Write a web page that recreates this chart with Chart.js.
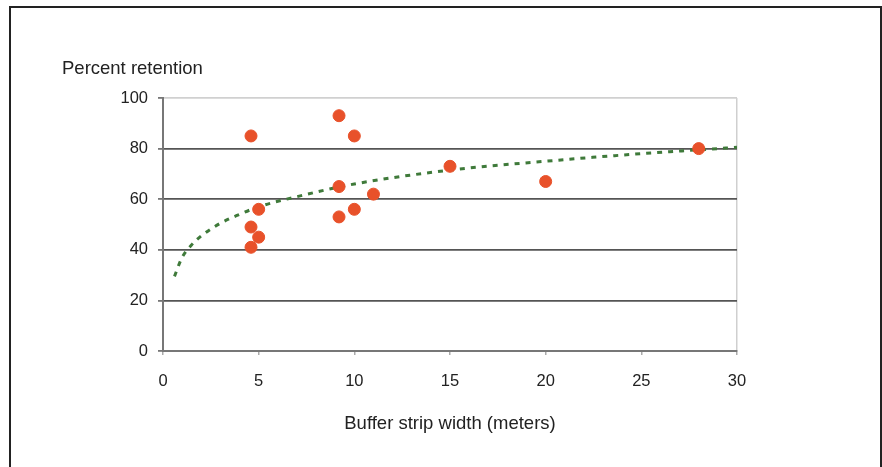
<!DOCTYPE html>
<html>
<head>
<meta charset="utf-8">
<script src="https://cdn.jsdelivr.net/npm/chart.js@4.4.1/dist/chart.umd.min.js"></script>
<style>
  html, body { margin: 0; padding: 0; background: #fff; }
  #frame {
    position: absolute; left: 9px; top: 6px; width: 869px; height: 480px;
    border-left: 2px solid #222; border-top: 2px solid #222; border-right: 2px solid #222;
  }
  #chart { position: absolute; left: 0; top: 0; }
</style>
</head>
<body>
<div id="frame"></div>
<canvas id="chart" width="882" height="467"></canvas>
<script>
  // measured points (buffer width in m, % retained)
  var widths    = [4.6, 9.2, 10, 9.2, 11, 5, 10, 9.2, 4.6, 5, 4.6, 15, 20, 28];
  var retention = [85, 93, 85, 65, 62, 56, 56, 53, 49, 45, 41, 73, 67, 80];

  // trend line
  var trendX = [0.6, 1, 1.5, 2, 3, 4, 5, 7, 10, 15, 20, 25, 30];
  var trendY = [29.5, 37, 42, 45.5, 50.5, 54, 57, 61, 66, 71.5, 75, 78, 80.5];

  var xTicks = [0, 5, 10, 15, 20, 25, 30];
  var yTicks = [0, 20, 40, 60, 80, 100];

  var yTitle = "Percent retention";
  var xTitle = "Buffer strip width (meters)";

  var FONT = "'Liberation Sans', Arial, sans-serif";

  function toPoints(xs, ys) {
    var out = [];
    for (var i = 0; i < xs.length; i++) out.push({ x: xs[i], y: ys[i] });
    return out;
  }

  var titles = {
    id: "titles",
    afterDraw: function(chart) {
      var ctx = chart.ctx;
      ctx.save();
      ctx.font = "18.5px " + FONT;
      ctx.fillStyle = "#222";
      ctx.textBaseline = "middle";
      ctx.textAlign = "left";
      ctx.fillText(yTitle, 62, 69);
      ctx.textAlign = "center";
      var a = chart.chartArea;
      ctx.fillText(xTitle, (a.left + a.right) / 2, 424);
      ctx.restore();
    }
  };

  new Chart(document.getElementById("chart"), {
    type: "scatter",
    data: {
      datasets: [
        {
          label: "Retention",
          data: toPoints(widths, retention),
          backgroundColor: "#e8512a",
          borderColor: "#e8512a",
          borderWidth: 1,
          pointRadius: 6,
          order: 1
        },
        {
          label: "Trend",
          type: "line",
          data: toPoints(trendX, trendY),
          borderColor: "#3f7a3a",
          borderWidth: 3,
          borderDash: [5, 6],
          pointRadius: 0,
          cubicInterpolationMode: "monotone",
          fill: false,
          order: 2
        }
      ]
    },
    options: {
      responsive: false,
      animation: false,
      layout: { padding: { left: 113, top: 98, right: 145, bottom: 76 } },
      plugins: { legend: { display: false }, tooltip: { enabled: false } },
      scales: {
        x: {
          type: "linear",
          min: 0, max: 30,
          afterBuildTicks: function(s) { s.ticks = xTicks.map(function(v) { return { value: v }; }); },
          afterFit: function(s) { s.height = 40; },
          ticks: { color: "#222", font: { family: FONT, size: 16.5 }, padding: 17, maxRotation: 0 },
          grid: {
            color: function(c) { return c.tick && c.tick.value === 30 ? "#cfcfcf" : "rgba(0,0,0,0)"; },
            lineWidth: 1.5,
            tickColor: "#aaa",
            tickLength: 4
          },
          border: { color: "#777", width: 2 }
        },
        y: {
          min: 0, max: 100,
          afterBuildTicks: function(s) { s.ticks = yTicks.map(function(v) { return { value: v }; }); },
          afterFit: function(s) { s.width = 50; },
          ticks: { color: "#222", font: { family: FONT, size: 16.5 }, padding: 10 },
          grid: {
            color: function(c) {
              if (!c.tick) return "#555";
              if (c.tick.value === 100) return "#d0d0d0";
              if (c.tick.value === 0) return "#777";
              return "#555";
            },
            lineWidth: 1.8,
            tickColor: "#777",
            tickLength: 5
          },
          border: { color: "#777", width: 2 }
        }
      }
    },
    plugins: [titles]
  });
</script>
</body>
</html>
